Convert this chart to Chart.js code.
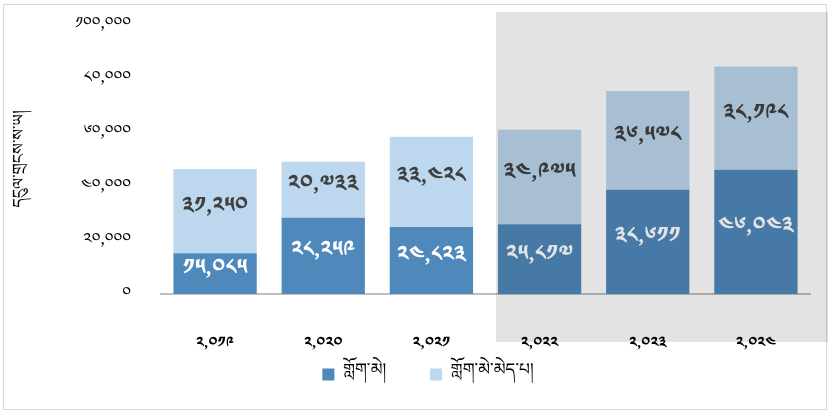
<!DOCTYPE html>
<html>
<head>
<meta charset="utf-8">
<script src="https://cdn.jsdelivr.net/npm/chart.js@4.4.1/dist/chart.umd.min.js"></script>
<style>
  html, body { margin: 0; padding: 0; background: #ffffff; }
  #wrap { width: 830px; height: 413px; position: relative; }
</style>
</head>
<body>
<div id="wrap"><canvas id="c" width="830" height="413"></canvas></div>
<script>
// ---- data ----
const years = [2019, 2020, 2021, 2022, 2023, 2024];
const withElectricity = [15085, 28259, 24823, 25817, 38611, 46043];
const withoutElectricity = [31250, 20733, 33428, 34975, 36578, 38198];
const yTicks = [0, 20000, 40000, 60000, 80000, 100000];
const seriesNames = ['གློག་མེ།', 'གློག་མེ་མེད་པ།'];
const yTitle = 'དངུལ་གྲངས་ས་ཡ།';
const highlightFrom = 3; // index of first highlighted year (2022)

const TIB = ['༠','༡','༢','༣','༤','༥','༦','༧','༨','༩'];
function toTib(n) {
  const s = Number(n).toLocaleString('en-US');
  return s.replace(/[0-9]/g, d => TIB[+d]);
}

const FONT = '"Noto Sans Tibetan", "Noto Serif Tibetan", "Jomolhari", "Microsoft Himalaya", "DejaVu Sans", sans-serif';
const SP = '\u2002';

const decorPlugin = {
  id: 'decor',
  afterLayout(chart) {
    if (chart.legend) { chart.legend.left += 16; chart.legend.right += 16; }
  },
  beforeDraw(chart) {
    const ctx = chart.ctx;
    ctx.save();
    ctx.fillStyle = '#ffffff';
    ctx.fillRect(0, 0, chart.width, chart.height);
    ctx.strokeStyle = '#d9d9d9';
    ctx.lineWidth = 1;
    ctx.strokeRect(3.5, 4.5, chart.width - 7, chart.height - 8);
    ctx.restore();
  },
  afterDatasetsDraw(chart) {
    const ctx = chart.ctx;
    ctx.save();
    ctx.font = 'bold 22px ' + FONT;
    ctx.textAlign = 'center';
    ctx.textBaseline = 'middle';
    chart.data.datasets.forEach((ds, di) => {
      const meta = chart.getDatasetMeta(di);
      meta.data.forEach((bar, i) => {
        const cy = (bar.y + bar.base) / 2;
        ctx.fillStyle = di === 0 ? '#ffffff' : '#404040';
        ctx.fillText(toTib(ds.data[i]), bar.x, cy);
      });
    });
    ctx.restore();
  },
  afterDraw(chart) {
    const ctx = chart.ctx;
    const meta = chart.getDatasetMeta(0);
    const b = meta.data[highlightFrom];
    const left = b.x - b.width / 2 - 2;
    ctx.save();
    ctx.fillStyle = 'rgba(0,0,0,0.11)';
    ctx.fillRect(left, 12, chart.width - 2 - left, 330);
    ctx.restore();
  }
};

new Chart(document.getElementById('c'), {
  type: 'bar',
  data: {
    labels: years.map(toTib),
    datasets: [
      { label: seriesNames[0] + SP + SP + SP + SP, data: withElectricity, backgroundColor: '#4f88bb', borderWidth: 0 },
      { label: seriesNames[1], data: withoutElectricity, backgroundColor: '#bdd7ee', borderWidth: 0 }
    ]
  },
  options: {
    responsive: false,
    animation: false,
    devicePixelRatio: 1,
    layout: { padding: { left: 14, right: 20, top: 24, bottom: 20 } },
    datasets: { bar: { categoryPercentage: 1.0, barPercentage: 0.77 } },
    plugins: {
      tooltip: { enabled: false },
      legend: {
        position: 'bottom',
        labels: {
          color: '#000000',
          font: { family: FONT, size: 17 },
          boxWidth: 12, boxHeight: 12, padding: 10
        }
      }
    },
    scales: {
      x: {
        stacked: true,
        afterFit(s) { s.height = 62; },
        grid: { display: false, drawTicks: false },
        border: { display: true, color: '#bfbfbf', width: 2 },
        ticks: { color: '#000000', padding: 44, font: { family: FONT, size: 15, weight: 'bold' } }
      },
      y: {
        stacked: true,
        min: 0, max: 100000,
        afterBuildTicks(s) { s.ticks = yTicks.map(v => ({ value: v })); },
        afterFit(s) { s.width = 147; s.paddingTop = 0; s.paddingBottom = 0; },
        grid: { display: false, drawTicks: false },
        border: { display: false },
        ticks: { color: '#000000', padding: 30, labelOffset: 4, font: { family: FONT, size: 16 }, callback: v => toTib(v) },
        title: { display: true, text: yTitle, color: '#000000', font: { family: FONT, size: 16 }, padding: 0 }
      }
    }
  },
  plugins: [decorPlugin]
});
</script>
</body>
</html>
